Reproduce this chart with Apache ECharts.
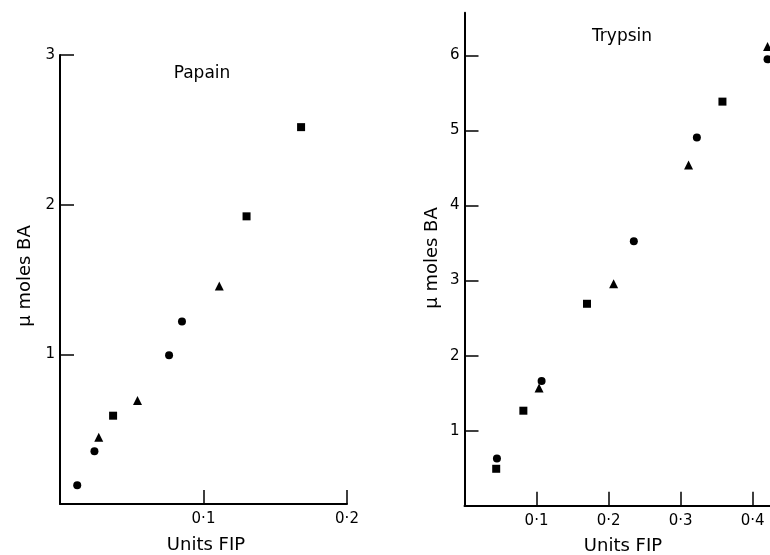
<!DOCTYPE html>
<html>
<head>
<meta charset="utf-8">
<script src="https://cdn.jsdelivr.net/npm/echarts@6/dist/echarts.min.js"></script>
<style>
html,body{margin:0;padding:0;background:#fff;}
#chart{width:770px;height:555px;}
</style>
</head>
<body>
<div id="chart"></div>
<script>
// Papain panel data [Units FIP, µmoles BA]
var papainCircles = [[0.012, 0.126], [0.024, 0.353], [0.076, 0.994], [0.085, 1.219]];
var papainTriangles = [[0.027, 0.446], [0.054, 0.692], [0.111, 1.456]];
var papainSquares = [[0.037, 0.590], [0.130, 1.922], [0.168, 2.518]];

// Trypsin panel data
var trypsinCircles = [[0.045, 0.629], [0.107, 1.662], [0.235, 3.525], [0.3225, 4.907], [0.4206, 5.95]];
var trypsinTriangles = [[0.1035, 1.567], [0.207, 2.959], [0.311, 4.539], [0.4206, 6.118]];
var trypsinSquares = [[0.044, 0.492], [0.0817, 1.266], [0.170, 2.691], [0.358, 5.385]];

// Tick values
var papainXTicks = [0.1, 0.2];
var papainYTicks = [1, 2, 3];
var trypsinXTicks = [0.1, 0.2, 0.3, 0.4];
var trypsinYTicks = [1, 2, 3, 4, 5, 6];

// Text
var titles = ['Papain', 'Trypsin'];
var xName = 'Units FIP';
var yName = 'μ moles BA';

var FONT = 'DejaVu Sans';
function fmtX(v) { return String(Math.round(v * 10) / 10).replace('.', '·'); }

function xAxis(gridIndex, max, ticks) {
  return {
    type: 'value', gridIndex: gridIndex, min: 0, max: max,
    axisLine: { show: true, lineStyle: { color: '#000', width: 2 } },
    axisTick: { show: true, inside: true, length: 14, customValues: ticks, lineStyle: { color: '#000', width: 1.5 } },
    axisLabel: { customValues: ticks, formatter: fmtX, fontFamily: FONT, fontSize: 15, color: '#000', margin: 8 },
    splitLine: { show: false }
  };
}
function yAxis(gridIndex, max, ticks) {
  return {
    type: 'value', gridIndex: gridIndex, min: 0, max: max,
    axisLine: { show: true, lineStyle: { color: '#000', width: 2 } },
    axisTick: { show: true, inside: true, length: 14, customValues: ticks, lineStyle: { color: '#000', width: 1.5 } },
    axisLabel: { customValues: ticks, fontFamily: FONT, fontSize: 15, color: '#000', margin: 5 },
    splitLine: { show: false }
  };
}
function sc(name, data, symbol, size, xi) {
  return {
    type: 'scatter', name: name, xAxisIndex: xi, yAxisIndex: xi,
    data: data, symbol: symbol, symbolSize: size,
    itemStyle: { color: '#000', opacity: 1 }, clip: false
  };
}
function txt(s, x, y, size, rot) {
  return {
    type: 'text', x: x, y: y, rotation: rot || 0,
    style: { text: s, fontFamily: FONT, fontSize: size, fill: '#000', align: 'center', verticalAlign: 'middle' }
  };
}

var chart = echarts.init(document.getElementById('chart'));
chart.setOption({
  backgroundColor: '#fff',
  animation: false,
  graphic: [
    txt(titles[0], 202, 74, 17),
    txt(titles[1], 622, 37, 17),
    txt(xName, 206, 545, 18),
    txt(xName, 623, 546, 18),
    txt(yName, 25, 276, 18, Math.PI / 2),
    txt(yName, 432, 258, 18, Math.PI / 2)
  ],
  grid: [
    { left: 60, top: 55, width: 287, bottom: 51 },
    { left: 464.5, top: 12.7, right: 0, bottom: 49.3 }
  ],
  xAxis: [xAxis(0, 0.2, papainXTicks), xAxis(1, 0.424, trypsinXTicks)],
  yAxis: [yAxis(0, 3, papainYTicks), yAxis(1, 6.57, trypsinYTicks)],
  series: [
    sc('Papain ●', papainCircles, 'circle', 8, 0),
    sc('Papain ▲', papainTriangles, 'triangle', 9, 0),
    sc('Papain ■', papainSquares, 'rect', 8, 0),
    sc('Trypsin ●', trypsinCircles, 'circle', 8, 1),
    sc('Trypsin ▲', trypsinTriangles, 'triangle', 9, 1),
    sc('Trypsin ■', trypsinSquares, 'rect', 8, 1)
  ]
});
</script>
</body>
</html>
